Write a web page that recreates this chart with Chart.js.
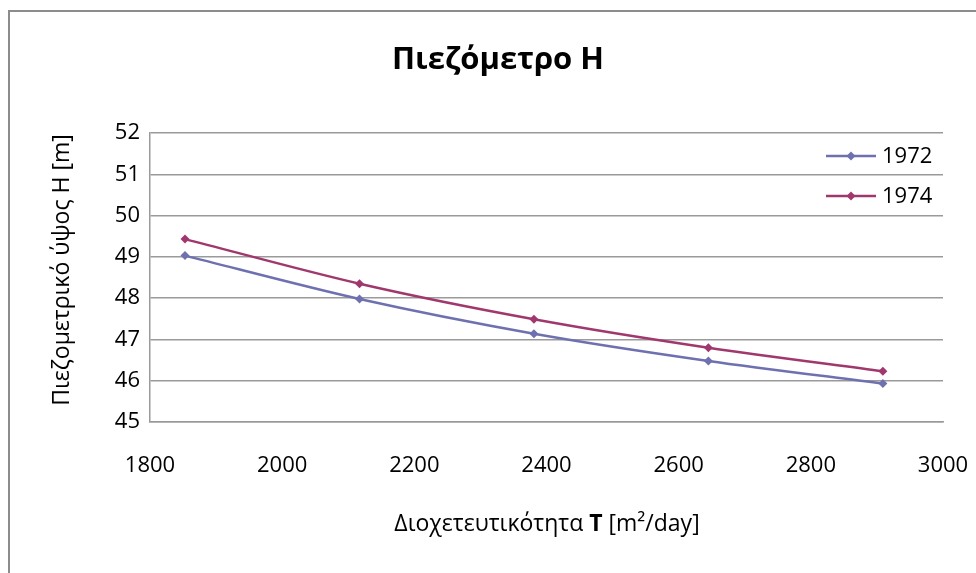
<!DOCTYPE html>
<html>
<head>
<meta charset="utf-8">
<script src="https://cdn.jsdelivr.net/npm/chart.js@4.4.1/dist/chart.umd.min.js"></script>
<style>
  html, body { margin: 0; padding: 0; background: #fff; }
  #wrap { width: 976px; height: 573px; position: relative; }
</style>
</head>
<body>
<div id="wrap"><canvas id="chart" width="976" height="573"></canvas></div>
<script>
// ======= DATA =======
const transmissivity = [1853, 2117, 2381, 2645, 2909];
const head1972 = [49.03, 47.98, 47.14, 46.48, 45.93];
const head1974 = [49.43, 48.35, 47.49, 46.80, 46.23];
const seriesNames = ['1972', '1974'];
const xRange = [1800, 3000, 200];
const yRange = [45, 52, 1];

const chartTitle = 'Πιεζόμετρο Η';
const yTitle = 'Πιεζομετρικό ύψος Η [m]';
const xTitleParts = ['Διοχετευτικότητα ', 'T', ' [m²/day]'];

const FONT = "'Open Sans', sans-serif";
const colors = ['#6e70b0', '#a0386e'];

const toPoints = ys => transmissivity.map((x, i) => ({ x: x, y: ys[i] }));

// ======= DECORATION PLUGIN (frame, titles, legend) =======
const decor = {
  id: 'decor',
  beforeDraw(chart) {
    const ctx = chart.ctx;
    ctx.save();
    ctx.fillStyle = '#fff';
    ctx.fillRect(0, 0, chart.width, chart.height);
    ctx.strokeStyle = '#8c8c8c';
    ctx.lineWidth = 2;
    ctx.strokeRect(9, 11, 1100, 1100);
    ctx.restore();
  },
  afterDraw(chart) {
    const ctx = chart.ctx;
    ctx.save();
    ctx.fillStyle = '#000';
    ctx.textBaseline = 'middle';

    // main title
    ctx.textAlign = 'center';
    ctx.font = 'bold 31px ' + FONT;
    ctx.fillText(chartTitle, 498, 60);

    // y axis title
    ctx.save();
    ctx.translate(62, 270);
    ctx.rotate(-Math.PI / 2);
    ctx.font = '23px ' + FONT;
    ctx.fillText(yTitle, 0, 0);
    ctx.restore();

    // x axis title with bold T
    const fonts = ['23px ' + FONT, 'bold 23px ' + FONT, '23px ' + FONT];
    let total = 0;
    xTitleParts.forEach((t, i) => { ctx.font = fonts[i]; total += ctx.measureText(t).width; });
    let x = 547 - total / 2;
    ctx.textAlign = 'left';
    xTitleParts.forEach((t, i) => {
      ctx.font = fonts[i];
      ctx.fillText(t, x, 524);
      x += ctx.measureText(t).width;
    });

    // legend inside plot area
    seriesNames.forEach((name, i) => {
      const ly = 156 + i * 40;
      ctx.strokeStyle = colors[i];
      ctx.lineWidth = 2.5;
      ctx.beginPath();
      ctx.moveTo(826, ly);
      ctx.lineTo(876, ly);
      ctx.stroke();
      ctx.fillStyle = colors[i];
      ctx.beginPath();
      ctx.moveTo(851, ly - 4.5);
      ctx.lineTo(855.5, ly);
      ctx.lineTo(851, ly + 4.5);
      ctx.lineTo(846.5, ly);
      ctx.closePath();
      ctx.fill();
      ctx.fillStyle = '#000';
      ctx.font = '22px ' + FONT;
      ctx.fillText(name, 882, ly + 1);
    });
    ctx.restore();
  }
};

// ======= CHART =======
const ctx = document.getElementById('chart').getContext('2d');
new Chart(ctx, {
  type: 'line',
  data: {
    datasets: [head1972, head1974].map((ys, i) => ({
      label: seriesNames[i],
      data: toPoints(ys),
      borderColor: colors[i],
      backgroundColor: colors[i],
      borderWidth: 2.5,
      pointStyle: 'rectRot',
      pointRadius: 4.5,
      pointBorderWidth: 0,
      tension: 0.3,
      fill: false
    }))
  },
  options: {
    responsive: false,
    animation: false,
    layout: { padding: { left: 0, right: 33, top: 133, bottom: 0 } },
    plugins: {
      legend: { display: false },
      title: { display: false },
      tooltip: { enabled: false }
    },
    scales: {
      x: {
        type: 'linear',
        min: xRange[0],
        max: xRange[1],
        afterFit: s => {
          s.height = 573 - 422;
          s.paddingLeft = 0;
          s.paddingRight = 0;
        },
        ticks: {
          stepSize: xRange[2], color: '#000', padding: 31, maxRotation: 0,
          font: { family: FONT, size: 22 },
          callback: v => String(v)
        },
        grid: { display: false, drawTicks: false },
        border: { display: true, color: '#9a9a9a', width: 1.5 }
      },
      y: {
        min: yRange[0],
        max: yRange[1],
        afterFit: s => { s.width = 150; },
        ticks: {
          stepSize: yRange[2], color: '#000', padding: 10,
          font: { family: FONT, size: 22 },
          callback: v => String(v)
        },
        grid: { color: '#9a9a9a', lineWidth: 1.5, drawTicks: false },
        border: { display: true, color: '#9a9a9a', width: 1.5 }
      }
    }
  },
  plugins: [decor]
});
</script>
</body>
</html>
